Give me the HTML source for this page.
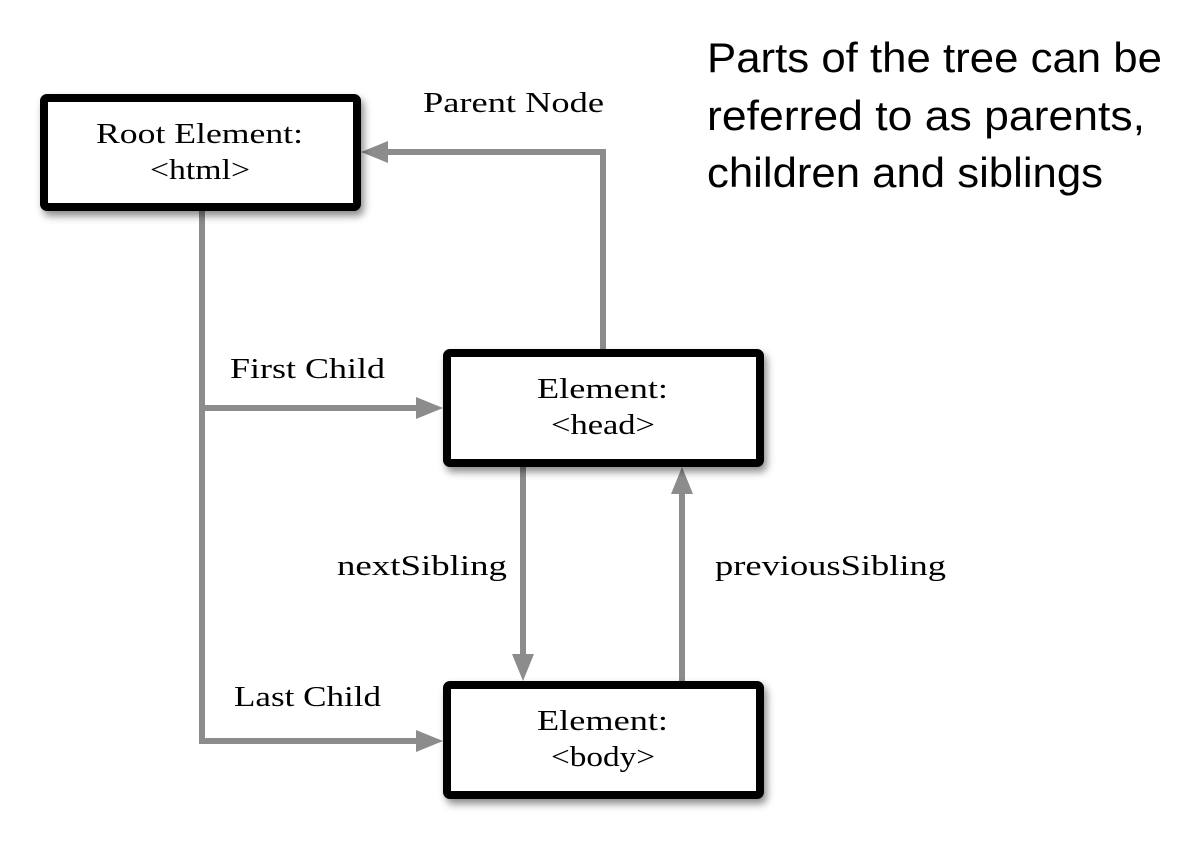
<!DOCTYPE html>
<html><head><style>
body{margin:0;background:#fff;width:1181px;height:850px;position:relative;overflow:hidden}
svg{position:absolute;left:0;top:0}
text{font-family:"Liberation Serif",serif;font-size:28px;fill:#000}
text.t{font-family:"Liberation Sans",sans-serif;font-size:42px}
</style></head><body>
<svg width="1181" height="850">
<defs>
<filter id="s" x="-10%" y="-10%" width="130%" height="140%"><feDropShadow dx="3" dy="5" stdDeviation="4" flood-color="#000" flood-opacity="0.45"/></filter>
</defs>
<g stroke="#8c8c8c" stroke-width="6" fill="none">
<polyline points="202,211 202,741 420,741"/>
<line x1="202" y1="408" x2="420" y2="408"/>
<polyline points="603,349 603,152 385,152"/>
<line x1="523" y1="467" x2="523" y2="658"/>
<line x1="682" y1="681" x2="682" y2="492"/>
</g>
<g fill="#8c8c8c">
<polygon points="443,408 416,397 416,419"/>
<polygon points="443,741 416,730 416,752"/>
<polygon points="361,152 388,141 388,163"/>
<polygon points="523,681 512,654 534,654"/>
<polygon points="682,467 671,494 693,494"/>
</g>
<g fill="#fff" stroke="#000" stroke-width="8" filter="url(#s)">
<rect x="44" y="98" width="313" height="109" rx="3"/>
<rect x="447" y="353" width="313" height="110" rx="3"/>
<rect x="447" y="685" width="313" height="110" rx="3"/>
</g>
<g lengthAdjust="spacingAndGlyphs">
<text x="96" y="143" textLength="207" lengthAdjust="spacingAndGlyphs">Root Element:</text>
<text x="150" y="179" textLength="100" lengthAdjust="spacingAndGlyphs">&lt;html&gt;</text>
<text x="537" y="398" textLength="131" lengthAdjust="spacingAndGlyphs">Element:</text>
<text x="551" y="434" textLength="104" lengthAdjust="spacingAndGlyphs">&lt;head&gt;</text>
<text x="537" y="730" textLength="131" lengthAdjust="spacingAndGlyphs">Element:</text>
<text x="551" y="766" textLength="104" lengthAdjust="spacingAndGlyphs">&lt;body&gt;</text>
<text x="423" y="112" textLength="181" lengthAdjust="spacingAndGlyphs">Parent Node</text>
<text x="230" y="378" textLength="155" lengthAdjust="spacingAndGlyphs">First Child</text>
<text x="337" y="575" textLength="170" lengthAdjust="spacingAndGlyphs">nextSibling</text>
<text x="715" y="575" textLength="231" lengthAdjust="spacingAndGlyphs">previousSibling</text>
<text x="234" y="706" textLength="147" lengthAdjust="spacingAndGlyphs">Last Child</text>
<text class="t" x="707" y="72" textLength="455" lengthAdjust="spacingAndGlyphs">Parts of the tree can be</text>
<text class="t" x="707" y="130" textLength="438" lengthAdjust="spacingAndGlyphs">referred to as parents,</text>
<text class="t" x="707" y="187" textLength="396" lengthAdjust="spacingAndGlyphs">children and siblings</text>
</g>
</svg>
</body></html>
